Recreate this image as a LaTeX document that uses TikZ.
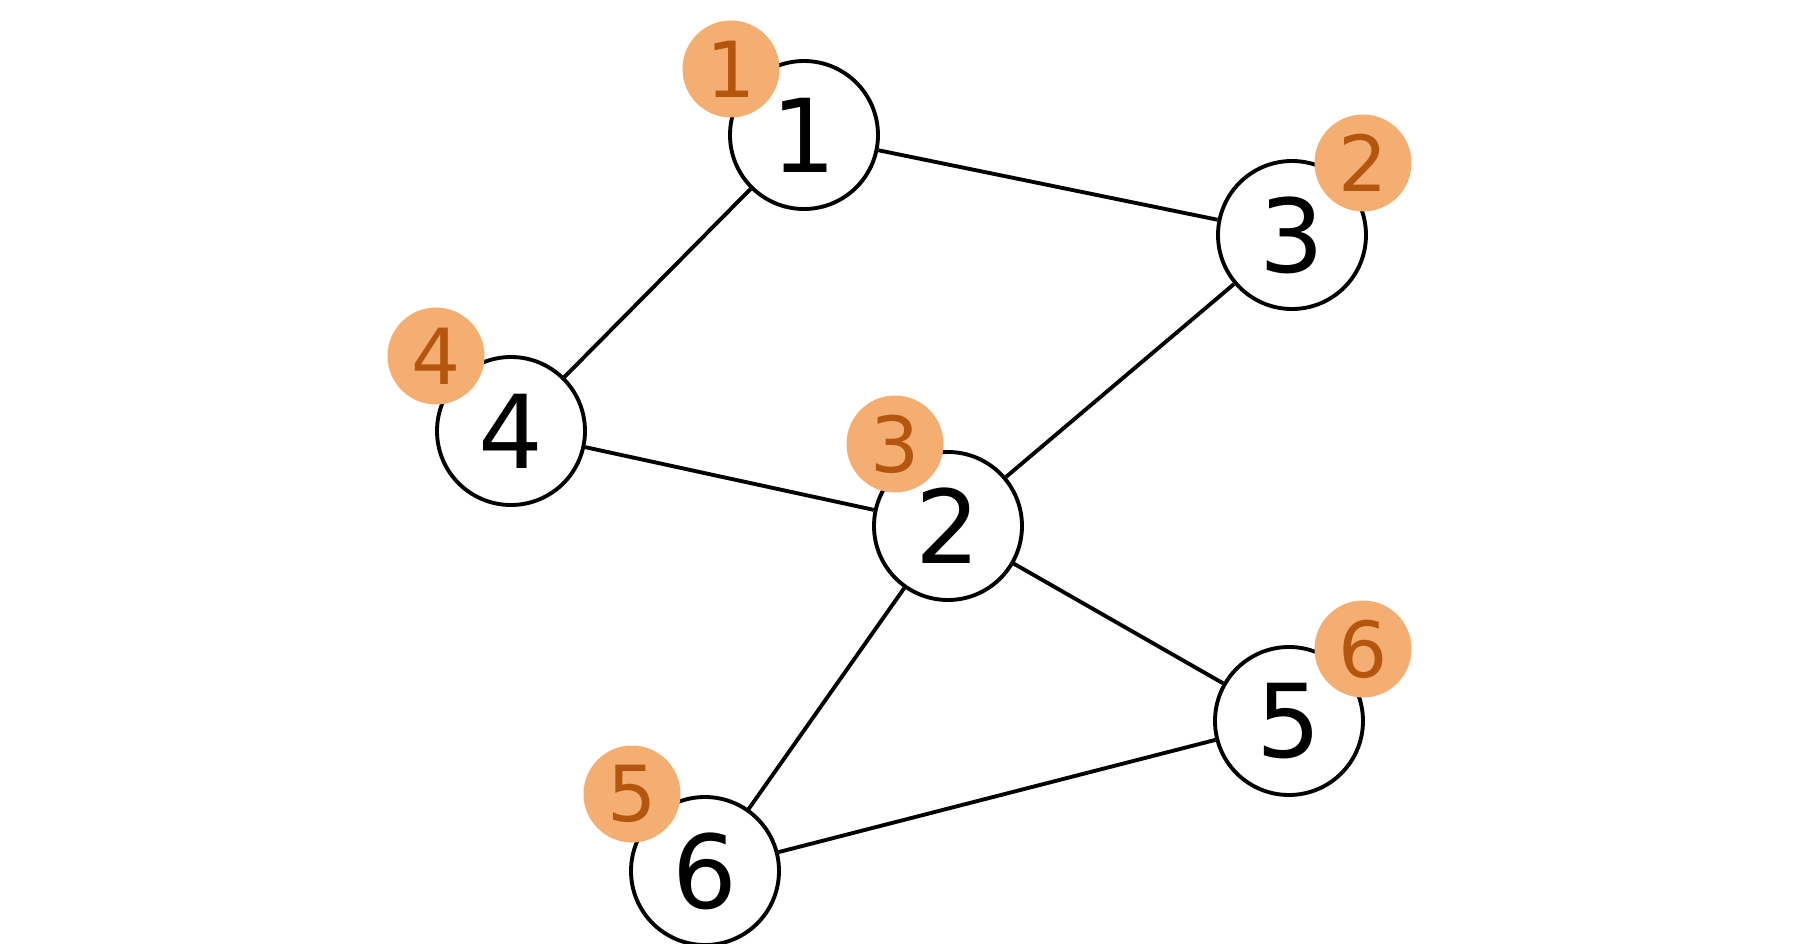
\documentclass[tikz,border=0pt]{standalone}
\usepackage{fontspec}
\setmainfont{DejaVu Sans}
\definecolor{badgefill}{HTML}{F5AE72}
\definecolor{badgetext}{HTML}{B5560E}
\tikzset{
  vertex/.style={circle, draw, line width=1.1pt, minimum size=1.48cm, inner sep=0pt, font=\fontsize{29}{29}\selectfont},
  badge/.style={circle, fill=badgefill, text=badgetext, minimum size=0.97cm, inner sep=0pt, font=\fontsize{22}{22}\selectfont}
}
\begin{document}
\begin{tikzpicture}
      \useasboundingbox (0,0) rectangle (18,9.43);
      \draw
        (8.04,8.08) node[vertex] (1){1}
        (12.92,7.08) node[vertex] (3){3}
        (5.11,5.12) node[vertex] (4){4}
        (9.48,4.17) node[vertex] (2){2}
        (12.89,2.22) node[vertex] (5){5}
        (7.05,0.72) node[vertex] (6){6};
      \begin{scope}[-, line width=1.1pt]
        \draw (1) to (3);
        \draw (1) to (4);
        \draw (4) to (2);
        \draw (3) to (2);
        \draw (2) to (5);
        \draw (2) to (6);
        \draw (6) to (5);
      \end{scope}
      \path
        (7.31,8.74) node[badge] (b1){1}
        (13.63,7.80) node[badge] (b2){2}
        (8.95,4.99) node[badge] (b3){3}
        (4.36,5.87) node[badge] (b4){4}
        (6.32,1.49) node[badge] (b5){5}
        (13.63,2.94) node[badge] (b6){6};
    \end{tikzpicture}
\end{document}
